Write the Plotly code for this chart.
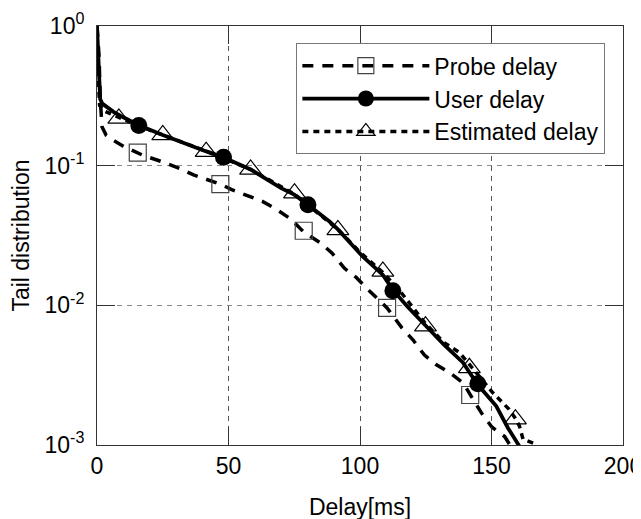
import plotly.graph_objects as go

# ---- data ----
probe_x = [0, 0.8, 1.2, 1.5, 1.9, 3.5, 6, 10, 15.5, 17.3, 24.5, 31.4, 36.7, 43.3, 47, 51, 56.8,
           62.9, 68.8, 73.8, 78.5, 85.2, 89.4, 94.1, 98.5, 103, 110.3, 116, 120.2, 124.5,
           128.9, 134.3, 139.2, 143, 146.4, 150.2, 155, 157]
probe_y = [1.0, 0.6, 0.31, 0.22, 0.19, 0.165, 0.153, 0.138, 0.124, 0.119, 0.107, 0.0955,
           0.0859, 0.0771, 0.0737, 0.0676, 0.0618, 0.0555, 0.0479, 0.0413, 0.0336, 0.0278,
           0.0236, 0.0184, 0.0159, 0.013, 0.00958, 0.00687, 0.00564, 0.0044, 0.00377,
           0.00327, 0.00278, 0.0021, 0.00167, 0.00134, 0.00115, 0.001]

user_x = [0, 0.6, 1.2, 2, 6.3, 10, 15.9, 25, 35, 41.3, 48, 58.4, 70, 75, 80.2, 88.4, 91.6,
          101, 108.7, 112.5, 118, 125.2, 132, 139.1, 144.8, 151.8, 156.2, 160.6]
user_y = [1.0, 0.5, 0.3, 0.278, 0.243, 0.222, 0.195, 0.166, 0.14, 0.127, 0.115, 0.094,
          0.069, 0.062, 0.0525, 0.0398, 0.035, 0.0224, 0.0165, 0.0129, 0.0098, 0.0071,
          0.0052, 0.0039, 0.0027, 0.0019, 0.00133, 0.00098]

est_x = [0, 0.4, 1, 3, 8.3, 16, 25, 41.5, 58.4, 75.1, 91.6, 100, 108.7, 115, 124.9, 132,
         137.8, 141.6, 146, 150.2, 156.7, 159.1, 160.6, 162, 166]
est_y = [1.0, 0.45, 0.27, 0.245, 0.222, 0.192, 0.166, 0.127, 0.094, 0.0625, 0.035, 0.024,
         0.0172, 0.0128, 0.0074, 0.0054, 0.0046, 0.0038, 0.003, 0.0024, 0.0018, 0.00155,
         0.00137, 0.0011, 0.00103]

probe_mx = [15.5, 46.9, 78.6, 110.3, 141.9]
probe_my = [0.124, 0.0737, 0.0342, 0.00958, 0.00228]
user_mx = [15.9, 48.1, 80.2, 112.5, 144.8]
user_my = [0.194, 0.115, 0.0526, 0.0127, 0.00275]
est_mx = [8.3, 25, 41.5, 58.4, 75.1, 91.6, 108.7, 124.9, 141.6, 159.1]
est_my = [0.218, 0.166, 0.126, 0.094, 0.0635, 0.0347, 0.0175, 0.0071, 0.00357, 0.00153]

series_names = ["Probe delay", "User delay", "Estimated delay"]
x_ticks = [0, 50, 100, 150, 200]
y_ticks = [1, 0.1, 0.01, 0.001]
y_tick_text = ["10<sup>0</sup>", "10<sup>-1</sup>", "10<sup>-2</sup>", "10<sup>-3</sup>"]

FONT = "Liberation Sans, Arial, Helvetica, sans-serif"

probe_line = dict(color="black", width=3.5, dash="11px,9px")
user_line = dict(color="black", width=3.8)
est_line = dict(color="black", width=3.5, dash="6px,5px")

probe_marker = dict(symbol="square-open", size=17, color="#444", line=dict(width=1.2, color="#444"))
user_marker = dict(symbol="circle", size=17, color="black")
est_marker = dict(symbol="triangle-up-open", size=19, color="black", line=dict(width=1.2, color="black"))

fig = go.Figure()
fig.add_trace(go.Scatter(x=probe_x, y=probe_y, mode="lines", line=probe_line, showlegend=False))
fig.add_trace(go.Scatter(x=user_x, y=user_y, mode="lines", line=user_line, showlegend=False))
fig.add_trace(go.Scatter(x=est_x, y=est_y, mode="lines", line=est_line, showlegend=False))
fig.add_trace(go.Scatter(x=probe_mx, y=probe_my, mode="markers", marker=probe_marker, showlegend=False))
fig.add_trace(go.Scatter(x=user_mx, y=user_my, mode="markers", marker=user_marker, showlegend=False))
fig.add_trace(go.Scatter(x=est_mx, y=est_my, mode="markers", marker=est_marker, showlegend=False))

# legend entries
for name, ln, mk in zip(series_names, [probe_line, user_line, est_line],
                        [probe_marker, user_marker, est_marker]):
    fig.add_trace(go.Scatter(x=[None], y=[None], mode="lines+markers", name=name,
                             line=ln, marker=mk, showlegend=True))

# the page body adds an 8px offset; the figure runs slightly past the window bottom
fig.update_layout(
    width=633, height=518,
    margin=dict(l=89, r=18, t=18, b=81, autoexpand=False),
    paper_bgcolor="white", plot_bgcolor="white",
    font=dict(family=FONT, size=23, color="black"),
    showlegend=True,
    legend=dict(x=0.379, y=0.959, xanchor="left", yanchor="top",
                bgcolor="white", bordercolor="#777", borderwidth=1,
                font=dict(family=FONT, size=23, color="black"),
                itemwidth=127, tracegroupgap=0, traceorder="normal"),
)
fig.update_xaxes(
    range=[0, 200], tickvals=x_ticks, ticktext=[str(v) for v in x_ticks],
    ticks="inside", ticklen=18, tickcolor="#333", tickwidth=1,
    showline=True, linecolor="#333", linewidth=1, mirror="ticks",
    showgrid=True, gridcolor="#555", griddash="5px,5px", gridwidth=1,
    zeroline=False, automargin=False, ticklabeloverflow="allow",
    ticklabelstandoff=0,
    title=dict(text="Delay[ms]", font=dict(family=FONT, size=23), standoff=21),
    tickfont=dict(family=FONT, size=23),
)
fig.update_yaxes(
    type="log", range=[-3, 0], tickvals=y_ticks, ticktext=y_tick_text,
    ticks="inside", ticklen=18, tickcolor="#333", tickwidth=1,
    showline=True, linecolor="#333", linewidth=1, mirror="ticks",
    showgrid=True, gridcolor="#888", griddash="5px,5px", gridwidth=1,
    zeroline=False, automargin=False, ticklabeloverflow="allow",
    ticklabelstandoff=7,
    title=dict(text="Tail distribution", font=dict(family=FONT, size=23), standoff=10),
    tickfont=dict(family=FONT, size=23),
)

fig.write_html("out.html")
